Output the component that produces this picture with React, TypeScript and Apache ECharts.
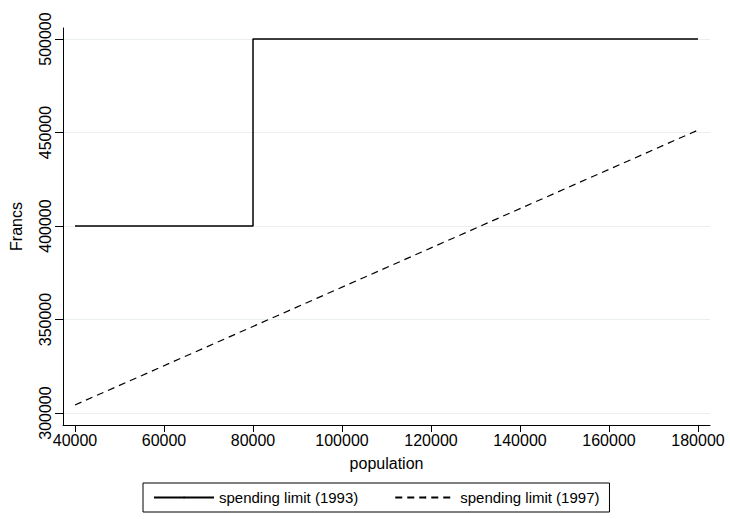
import React, { useEffect, useRef } from 'react';
import * as echarts from 'echarts';

const xTicks = [40000, 60000, 80000, 100000, 120000, 140000, 160000, 180000];
const yTicks = [300000, 350000, 400000, 450000, 500000];
const limit1993 = [[40000, 400000], [80000, 400000], [80000, 500000], [180000, 500000]];
const limit1997 = [[40000, 304300], [180000, 451300]];

const font = 'Liberation Sans, Arial, sans-serif';

const App: React.FC = () => {
  const chartRef = useRef<HTMLDivElement>(null);

  useEffect(() => {
    if (!chartRef.current) return;
    const chart = echarts.init(chartRef.current, undefined, { renderer: 'svg' });
    chart.setOption({
      animation: false,
      textStyle: { fontFamily: font },
      grid: { left: 63, right: 20, top: 28, bottom: 94, outerBoundsMode: 'none' },
      xAxis: {
        type: 'value',
        min: 37300,
        max: 182700,
        name: 'population',
        nameLocation: 'middle',
        nameGap: 30,
        nameTextStyle: { color: '#000', fontSize: 16 },
        axisLine: { lineStyle: { color: '#000' } },
        axisTick: { customValues: xTicks, length: 7, lineStyle: { color: '#000' } },
        axisLabel: { customValues: xTicks, color: '#000', fontSize: 16, margin: 7, formatter: (v: number) => String(v) },
        splitLine: { show: false },
      },
      yAxis: {
        type: 'value',
        min: 293600,
        max: 505900,
        name: 'Francs',
        nameLocation: 'middle',
        nameGap: 39,
        nameTextStyle: { color: '#000', fontSize: 16 },
        axisLine: { show: true, lineStyle: { color: '#000' } },
        axisTick: { show: true, customValues: yTicks, length: 8, lineStyle: { color: '#000' } },
        axisLabel: { customValues: yTicks, color: '#000', fontSize: 16, rotate: 90, margin: 10, formatter: (v: number) => String(v) },
        splitLine: { show: false },
      },
      legend: {
        top: 483,
        left: 143,
        itemWidth: 60,
        itemHeight: 2,
        itemGap: 36,
        padding: [7, 10],
        borderColor: '#000',
        borderWidth: 1,
        textStyle: { color: '#000', fontSize: 15 },
        data: ['spending limit (1993)', 'spending limit (1997)'],
      },
      series: [
        {
          type: 'line',
          silent: true,
          symbol: 'none',
          z: 0,
          data: yTicks.map(v => [37300, v]),
          lineStyle: { opacity: 0 },
          markLine: {
            silent: true,
            symbol: 'none',
            z: 0,
            label: { show: false },
            lineStyle: { color: '#eaf0f2', type: 'solid', width: 1 },
            data: yTicks.map(v => ({ yAxis: v })),
          },
        },
        {
          name: 'spending limit (1993)',
          type: 'line',
          symbol: 'none',
          z: 5,
          data: limit1993,
          lineStyle: { color: '#000', width: 1.5 },
          itemStyle: { color: '#000' },
        },
        {
          name: 'spending limit (1997)',
          type: 'line',
          symbol: 'none',
          z: 5,
          data: limit1997,
          lineStyle: { color: '#000', width: 1.2, type: [7, 5] },
          itemStyle: { color: '#000' },
        },
      ],
    });
    return () => chart.dispose();
  }, []);

  return <div ref={chartRef} style={{ position: 'absolute', left: 0, top: 0, width: 730, height: 519 }} />;
};

export default App;
